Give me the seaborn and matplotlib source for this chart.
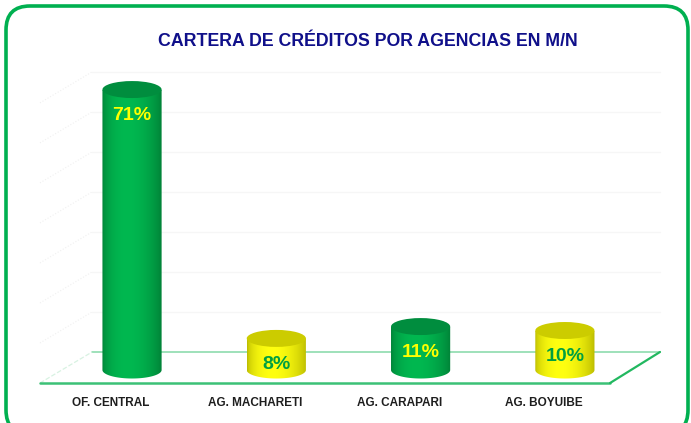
import numpy as np
import seaborn as sns
import matplotlib.pyplot as plt
from matplotlib.patches import Polygon, Ellipse, FancyBboxPatch
from matplotlib.colors import to_rgb

# datos del gráfico
agencias = ['OF. CENTRAL', 'AG. MACHARETI', 'AG. CARAPARI', 'AG. BOYUIBE']
porcentajes = [71, 8, 11, 10]
etiquetas = ['71%', '8%', '11%', '10%']
titulo = 'CARTERA DE CRÉDITOS POR AGENCIAS EN M/N'

# colores: cuerpo (centro, borde), tapa, texto
verde = ('#00b850', '#007f36', '#008d3e', '#ffff00')
amarillo = ('#ffff10', '#b8b800', '#cccc00', '#00a040')
estilos = [verde, amarillo, verde, amarillo]

sns.set_theme(style="white")
plt.rcParams['font.family'] = ['Liberation Sans', 'DejaVu Sans']

fig = plt.figure(figsize=(6.91, 4.23), dpi=100)

# marco redondeado (coordenadas en pixeles)
bg = fig.add_axes([0, 0, 1, 1])
bg.set_xlim(0, 691)
bg.set_ylim(423, 0)
bg.axis('off')
bg.add_patch(FancyBboxPatch((6, 6), 682, 428, boxstyle="round,pad=0,rounding_size=24",
                            facecolor='white', edgecolor='#00b050', linewidth=2.6))

fig.text(368 / 691, 1 - 42 / 423, titulo, ha='center', va='center',
         fontsize=12.8, fontweight='bold', color='#10108a')

ax = fig.add_axes([0, 1 - 390 / 423, 1, 330 / 423])
ax.patch.set_alpha(0)

sns.barplot(x=agencias, y=porcentajes, width=0.41, color='white', ax=ax, zorder=3)

# piso y paredes en perspectiva
fy, by = -3.29, 4.56
fl, fr, bl, br = -0.638, 3.313, -0.277, 3.659
paso = 10.13
for k in range(1, 8):
    ax.plot([bl, br], [by + paso * k, by + paso * k], color='#f6f6f6', lw=1.0, zorder=1)
    ax.plot([fl, bl], [fy + paso * k, by + paso * k], color='#f0f0f0', lw=0.8, ls=':', zorder=1)
ax.plot([bl, br], [by, by], color='#8edcae', lw=1.2, zorder=2)
ax.plot([fl, bl], [fy, by], color='#d8f2e2', lw=0.9, ls='--', zorder=2)
ax.plot([fl, fr], [fy, fy], color='#3cc176', lw=1.8, zorder=2)
ax.plot([fr, br], [fy, by], color='#22b860', lw=1.6, zorder=2)

# cilindros a partir de las barras de seaborn
eh = 4.3
for bar, est, txt, val in zip(ax.patches, estilos, etiquetas, porcentajes):
    x0, w, h = bar.get_x(), bar.get_width(), bar.get_height()
    cx = x0 + w / 2
    bar.set_visible(False)
    t = np.linspace(np.pi, 2 * np.pi, 80)
    verts = [(x0, h)] + list(zip(cx + w / 2 * np.cos(t), eh / 2 * np.sin(t))) + [(x0 + w, h)]
    cuerpo = Polygon(verts, closed=True, facecolor='none', edgecolor='none', zorder=3)
    ax.add_patch(cuerpo)
    s = np.linspace(0, 1, 120)
    peso = np.clip(np.sin(np.pi * (s ** 0.8)), 0, 1) ** 0.7
    c0, c1 = np.array(to_rgb(est[1])), np.array(to_rgb(est[0]))
    grad = (c0[None, :] * (1 - peso[:, None]) + c1[None, :] * peso[:, None])[None, :, :]
    im = ax.imshow(grad, extent=[x0, x0 + w, -eh / 2, h], aspect='auto', zorder=3,
                   interpolation='bilinear')
    im.set_clip_path(cuerpo)
    ax.add_patch(Ellipse((cx, h), w, eh, facecolor=est[2], edgecolor='none', zorder=4))
    ax.text(cx, val - 6.5, txt, ha='center', va='center', fontsize=14,
            fontweight='bold', color=est[3], zorder=5)

ax.set_xlim(-0.915, 3.874)
ax.set_ylim(-5.06, 78.48)
ax.set_yticks([])
ax.set_xticks(np.arange(len(agencias)) - 0.145, labels=agencias)
ax.tick_params(axis='x', length=0, pad=5, labelsize=8.5, labelcolor='#1e1e1e')
for lab in ax.get_xticklabels():
    lab.set_fontweight('bold')
ax.set_xlabel('')
ax.set_ylabel('')
sns.despine(ax=ax, left=True, bottom=True)

fig.savefig('out.png', dpi=100)
